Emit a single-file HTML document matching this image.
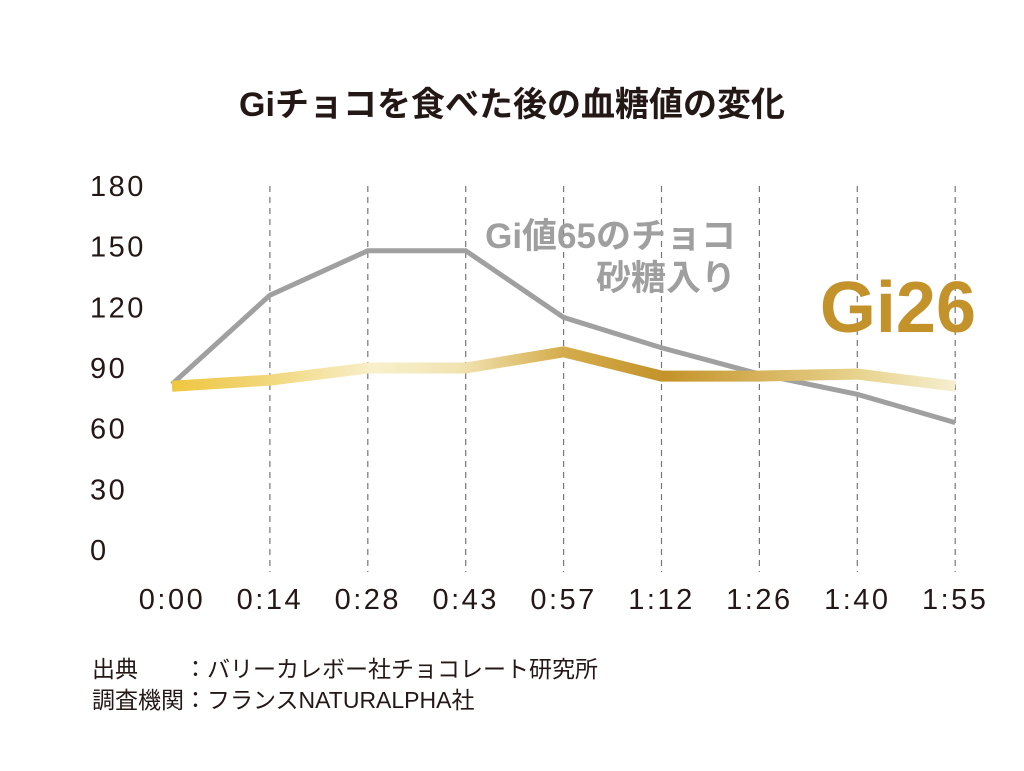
<!DOCTYPE html>
<html><head><meta charset="utf-8">
<style>
html,body{margin:0;padding:0;background:#fff;}
body{width:1024px;height:766px;overflow:hidden;font-family:"Liberation Sans","Noto Sans CJK JP",sans-serif;}
</style></head>
<body>
<svg id="chart" width="1024" height="766" xmlns="http://www.w3.org/2000/svg" font-family="Liberation Sans, Noto Sans CJK JP, sans-serif">
<defs>
<linearGradient id="gold" gradientUnits="userSpaceOnUse" x1="172" y1="0" x2="955" y2="0">
<stop offset="0" stop-color="#efc63e"/>
<stop offset="0.12" stop-color="#f1d67a"/>
<stop offset="0.26" stop-color="#f8f0cc"/>
<stop offset="0.37" stop-color="#f1e3b0"/>
<stop offset="0.5" stop-color="#d4ac4c"/>
<stop offset="0.63" stop-color="#c4932a"/>
<stop offset="0.75" stop-color="#d6b25a"/>
<stop offset="0.88" stop-color="#e8d48f"/>
<stop offset="1" stop-color="#f6efcf"/>
</linearGradient>
</defs>
<text x="512" y="116" text-anchor="middle" font-size="34" font-weight="bold" fill="#231815">Giチョコを食べた後の血糖値の変化</text>
<g id="grid"></g>
<g id="yticks"></g>
<g id="xticks"></g>
<g id="lines"></g>
<text x="736" y="248" text-anchor="end" font-size="35" font-weight="bold" fill="#9f9f9f">Gi値65のチョコ</text>
<text x="736" y="290" text-anchor="end" font-size="35" font-weight="bold" fill="#9f9f9f">砂糖入り</text>
<text x="976" y="332" text-anchor="end" font-size="72" font-weight="bold" fill="#c4922a">Gi26</text>
<text x="92" y="677" font-size="23" fill="#231815">出典　　：バリーカレボー社チョコレート研究所</text>
<text x="92" y="708" font-size="23" fill="#231815">調査機関：フランスNATURALPHA社</text>
</svg>
<script>
const categories = ["0:00","0:14","0:28","0:43","0:57","1:12","1:26","1:40","1:55"];
const yTicks = [0,30,60,90,120,150,180];
const gi65Values = [82,126,148,148,115,100,87,77,63];
const gi26Values = [81,84,90,90,98,86,86,87,81];
const NS="http://www.w3.org/2000/svg";
const x0=172, xStep=97.9, yZero=550, yScale=364/180;
function xPos(i){return x0+i*xStep;}
function yPos(v){return yZero-v*yScale;}
function mk(tag,attrs,parent){const e=document.createElementNS(NS,tag);for(const k in attrs)e.setAttribute(k,attrs[k]);parent.appendChild(e);return e;}
const grid=document.getElementById('grid'),yt=document.getElementById('yticks'),xt=document.getElementById('xticks'),lines=document.getElementById('lines');
categories.forEach((c,i)=>{
  if(i>0){
    const g=mk('line',{x1:xPos(i),x2:xPos(i),y1:186,y2:572,stroke:'#777','stroke-width':1.2,'stroke-dasharray':'6,5'},grid);
    
    
  }
  const t=mk('text',{x:xPos(i),y:609,'text-anchor':'middle','font-size':29,'letter-spacing':2.5,fill:'#231815'},xt);
  t.textContent=c;
  
  
});
yTicks.forEach(v=>{
  const t=mk('text',{x:90,y:yPos(v)+10,'font-size':29,'letter-spacing':2.5,fill:'#231815'},yt);
  t.textContent=v;
  
  
});
function pts(arr){return arr.map((v,i)=>xPos(i)+','+yPos(v)).join(' ');}
const l1=mk('polyline',{points:pts(gi65Values),fill:'none',stroke:'#a0a0a0','stroke-width':5,'stroke-linejoin':'miter'},lines);


const l2=mk('polyline',{points:pts(gi26Values),fill:'none',stroke:'url(#gold)','stroke-width':11,'stroke-linejoin':'miter'},lines);


</script>
</body></html>
